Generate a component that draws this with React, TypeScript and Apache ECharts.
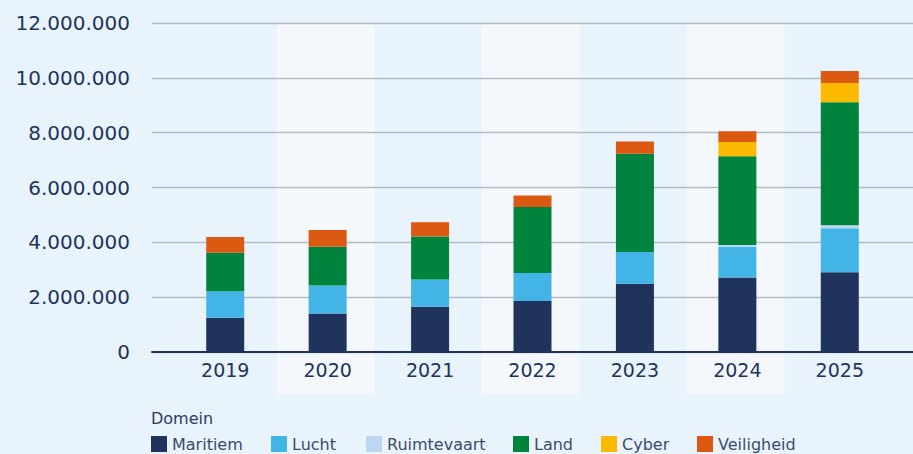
import React, { useEffect, useRef } from "react";
import * as echarts from "echarts";

const years = ["2019", "2020", "2021", "2022", "2023", "2024", "2025"];
const maritiem = [1250000, 1400000, 1650000, 1860000, 2490000, 2720000, 2910000];
const lucht = [970000, 1030000, 990000, 1020000, 1160000, 1120000, 1600000];
const ruimtevaart = [0, 0, 0, 0, 0, 60000, 110000];
const land = [1400000, 1410000, 1570000, 2410000, 3580000, 3240000, 4490000];
const cyber = [0, 0, 0, 0, 0, 520000, 700000];
const veiligheid = [570000, 610000, 520000, 420000, 450000, 390000, 440000];
const bandShown = [0, 1, 0, 1, 0, 1, 0];

const seriesDefs = [
  { name: "Maritiem", data: maritiem, color: "#20335c" },
  { name: "Lucht", data: lucht, color: "#42b4e6" },
  { name: "Ruimtevaart", data: ruimtevaart, color: "#bdd7f0" },
  { name: "Land", data: land, color: "#00843d" },
  { name: "Cyber", data: cyber, color: "#fbb900" },
  { name: "Veiligheid", data: veiligheid, color: "#dc5912" },
];
const legendLefts = [151, 271, 366, 513, 601, 697];

const FONT = "DejaVu Sans";
const NAVY = "#21335b";

function fmt(v: number): string {
  return String(Math.round(v)).replace(/\B(?=(\d{3})+(?!\d))/g, ".");
}

export default function App() {
  const ref = useRef<HTMLDivElement>(null);
  useEffect(() => {
    if (!ref.current) return;
    const chart = echarts.init(ref.current, undefined, { renderer: "svg" });
    const option: any = {
      animation: false,
      backgroundColor: "#e9f3fc",
      title: {
        text: "Domein",
        left: 151,
        top: 410,
        padding: 0,
        textStyle: { fontFamily: FONT, fontSize: 16, fontWeight: "normal", color: "#2c3d62" },
      },
      legend: seriesDefs.map((s, i) => ({
        data: [s.name],
        left: legendLefts[i],
        top: 436,
        padding: 0,
        itemWidth: 16,
        itemHeight: 16,
        icon: "rect",
        selectedMode: false,
        textStyle: { fontFamily: FONT, fontSize: 16, color: "#3b4b6d" },
      })),
      grid: [
        { left: 152, right: 0, top: 23, bottom: 102 },
        { left: 174, width: 717, top: 23, bottom: 102 },
        { left: 172, width: 717, top: 24, bottom: 60 },
      ],
      xAxis: [
        {
          type: "category",
          gridIndex: 0,
          data: years,
          z: 12,
          axisLine: { show: true, lineStyle: { color: NAVY, width: 2 } },
          axisTick: { show: false },
          axisLabel: { show: false },
          splitLine: { show: false },
        },
        {
          type: "category",
          gridIndex: 1,
          data: years,
          axisLine: { show: false },
          axisTick: { show: false },
          axisLabel: { fontFamily: FONT, fontSize: 19, color: NAVY, margin: 8 },
        },
        {
          type: "category",
          gridIndex: 2,
          data: years,
          show: false,
        },
      ],
      yAxis: [
        {
          type: "value",
          gridIndex: 0,
          min: 0,
          max: 12000000,
          interval: 2000000,
          z: 3,
          axisLine: { show: false },
          axisTick: { show: false },
          axisLabel: {
            fontFamily: FONT,
            fontSize: 20,
            color: NAVY,
            margin: 22,
            formatter: (v: number) => fmt(v),
          },
          splitLine: { show: true, lineStyle: { color: "#b4bbc4", width: 1.3 } },
        },
        { type: "value", gridIndex: 1, min: 0, max: 12000000, show: false },
        { type: "value", gridIndex: 2, min: 0, max: 1, show: false },
      ],
      series: [
        {
          type: "bar",
          name: "band",
          xAxisIndex: 2,
          yAxisIndex: 2,
          data: bandShown,
          barWidth: 98,
          silent: true,
          z: 0,
          itemStyle: { color: "#f4f8fd" },
        },
        ...seriesDefs.map((s) => ({
          type: "bar",
          name: s.name,
          xAxisIndex: 1,
          yAxisIndex: 1,
          stack: "total",
          barWidth: 38,
          data: s.data,
          z: 10,
          itemStyle: { color: s.color },
        })),
      ],
    };
    chart.setOption(option);
    return () => chart.dispose();
  }, []);
  return (
    <div
      ref={ref}
      style={{ position: "fixed", left: 0, top: 0, width: 913, height: 454 }}
    />
  );
}
